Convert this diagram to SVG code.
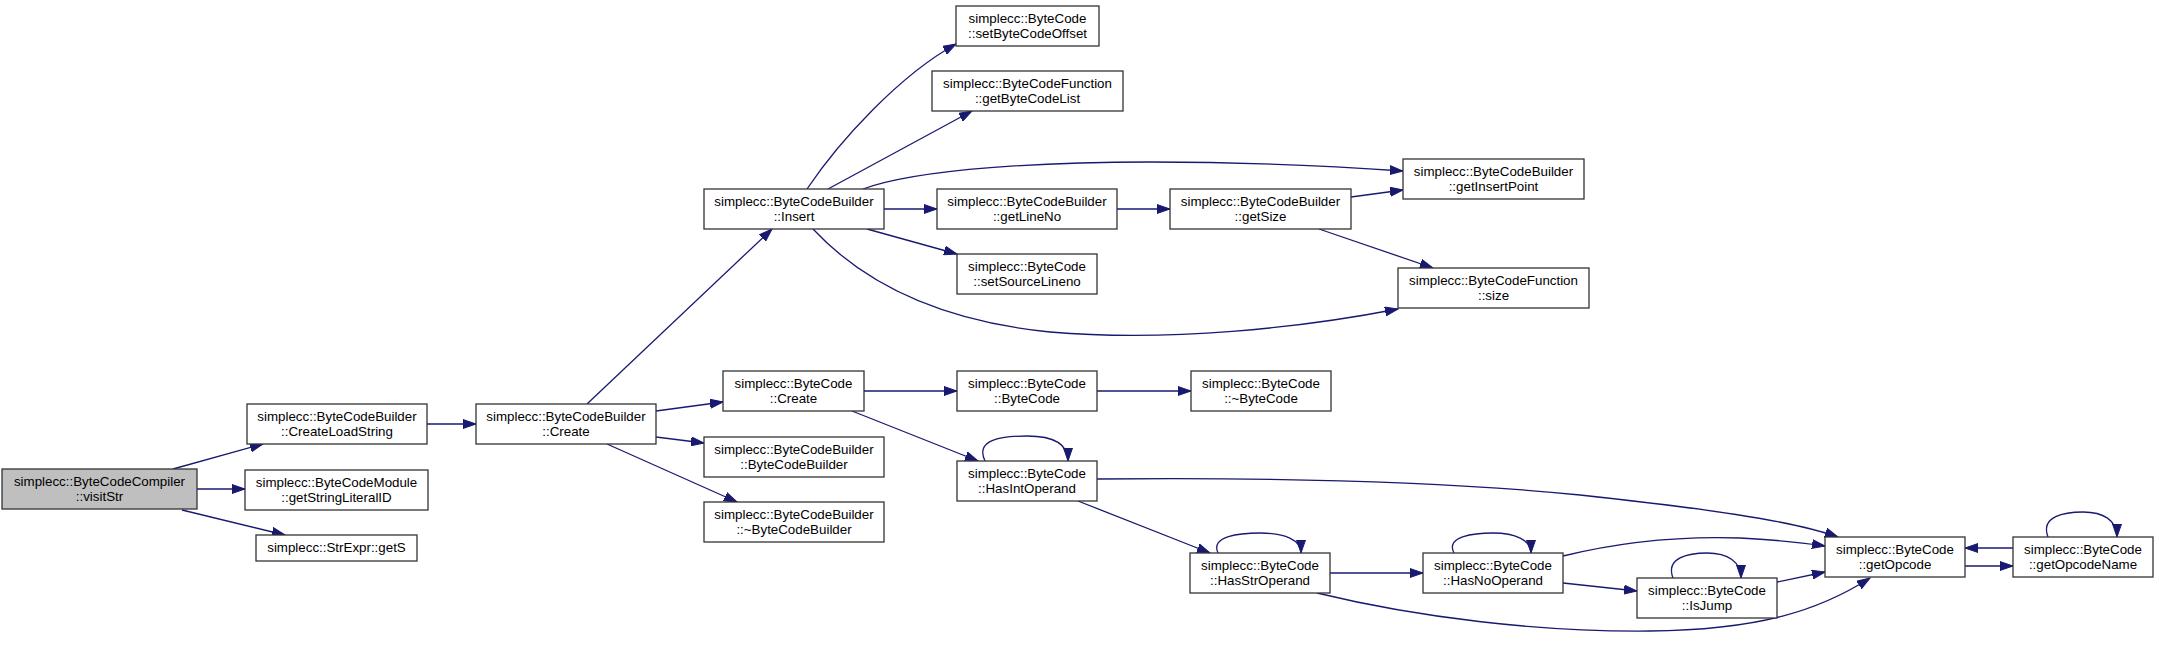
<svg xmlns="http://www.w3.org/2000/svg" width="2159" height="656" viewBox="0 0 2159 656">
<style>
.n rect{fill:#ffffff;stroke:#333333;stroke-width:1.3}
.n.hl rect{fill:#bfbfbf}
.n text{font-family:"Liberation Sans",Arial,sans-serif;font-size:13.33px;fill:#000;text-anchor:middle}
.e path{fill:none;stroke:#191970;stroke-width:1.3;marker-end:url(#ah)}
</style>
<defs>
<marker id="ah" markerUnits="userSpaceOnUse" markerWidth="14" markerHeight="10" refX="13" refY="5" orient="auto">
<path d="M0,0.5 L13,5 L0,9.5 z" fill="#191970" stroke="#191970" stroke-width="1"/>
</marker>
</defs>
<rect width="2159" height="656" fill="#ffffff"/>
<g id="edges" class="e">
<path d="M173,469 L263,444"/>
<path d="M197,489 L245,489"/>
<path d="M182,510 L285,535"/>
<path d="M427,424 L476,424"/>
<path d="M587,404 L772,229"/>
<path d="M656,411 L723,402"/>
<path d="M656,437 L704,443"/>
<path d="M607,444 L737,502"/>
<path d="M807,189 C840,140 900,75 956,44"/>
<path d="M828,189 L972,111"/>
<path d="M863,189 C920,168 1050,162 1150,162 C1250,162 1330,166 1403,171"/>
<path d="M884,209 L937,209"/>
<path d="M867,229 L957,254"/>
<path d="M813,229 C870,290 950,322 1050,332 C1170,342 1300,328 1398,309"/>
<path d="M1117,209 L1170,209"/>
<path d="M1351,197 L1403,190"/>
<path d="M1319,229 L1433,268"/>
<path d="M864,391 L957,391"/>
<path d="M852,411 L978,461"/>
<path d="M1097,391 L1191,391"/>
<path d="M985,461 C975,440 1000,436 1027,436 C1055,436 1068,445 1068,461"/>
<path d="M1097,479 C1300,477 1450,482 1580,495 C1700,508 1790,520 1838,537"/>
<path d="M1078,501 L1210,553"/>
<path d="M1218,553 C1210,536 1240,533 1260,533 C1285,533 1301,540 1301,553"/>
<path d="M1330,573 L1423,573"/>
<path d="M1317,593 C1420,618 1540,632 1650,631 C1760,630 1820,610 1870,578"/>
<path d="M1454,553 C1445,536 1475,533 1493,533 C1515,533 1531,540 1531,553"/>
<path d="M1563,556 C1620,542 1680,536 1740,538 C1780,540 1805,543 1825,546"/>
<path d="M1563,583 L1637,591"/>
<path d="M1673,578 C1665,557 1690,553 1707,553 C1728,553 1741,562 1741,578"/>
<path d="M1777,582 L1825,572"/>
<path d="M1965,566 L2013,566"/>
<path d="M2013,548 L1965,548"/>
<path d="M2048,537 C2040,516 2065,512 2083,512 C2103,512 2117,520 2117,537"/>
</g>
<g id="visitStr" class="n hl"><rect x="2" y="469" width="195" height="40"/><text x="99.5" y="486">simplecc::ByteCodeCompiler</text><text x="99.5" y="501">::visitStr</text></g>
<g id="CreateLoadString" class="n"><rect x="247" y="404" width="180" height="40"/><text x="337" y="421">simplecc::ByteCodeBuilder</text><text x="337" y="436">::CreateLoadString</text></g>
<g id="getStringLiteralID" class="n"><rect x="245" y="470" width="183" height="40"/><text x="336.5" y="487">simplecc::ByteCodeModule</text><text x="336.5" y="502">::getStringLiteralID</text></g>
<g id="getS" class="n"><rect x="256" y="535" width="161" height="26"/><text x="336.5" y="552">simplecc::StrExpr::getS</text></g>
<g id="BCB_Create" class="n"><rect x="476" y="404" width="180" height="40"/><text x="566" y="421">simplecc::ByteCodeBuilder</text><text x="566" y="436">::Create</text></g>
<g id="Insert" class="n"><rect x="704" y="189" width="180" height="40"/><text x="794" y="206">simplecc::ByteCodeBuilder</text><text x="794" y="221">::Insert</text></g>
<g id="BC_Create" class="n"><rect x="723" y="371" width="141" height="40"/><text x="793.5" y="388">simplecc::ByteCode</text><text x="793.5" y="403">::Create</text></g>
<g id="BCB_BCB" class="n"><rect x="704" y="437" width="180" height="40"/><text x="794" y="454">simplecc::ByteCodeBuilder</text><text x="794" y="469">::ByteCodeBuilder</text></g>
<g id="BCB_dtor" class="n"><rect x="704" y="502" width="180" height="40"/><text x="794" y="519">simplecc::ByteCodeBuilder</text><text x="794" y="534">::~ByteCodeBuilder</text></g>
<g id="setByteCodeOffset" class="n"><rect x="956" y="6" width="143" height="40"/><text x="1027.5" y="23">simplecc::ByteCode</text><text x="1027.5" y="38">::setByteCodeOffset</text></g>
<g id="getByteCodeList" class="n"><rect x="932" y="71" width="191" height="40"/><text x="1027.5" y="88">simplecc::ByteCodeFunction</text><text x="1027.5" y="103">::getByteCodeList</text></g>
<g id="getLineNo" class="n"><rect x="937" y="189" width="180" height="40"/><text x="1027" y="206">simplecc::ByteCodeBuilder</text><text x="1027" y="221">::getLineNo</text></g>
<g id="setSourceLineno" class="n"><rect x="957" y="254" width="140" height="40"/><text x="1027" y="271">simplecc::ByteCode</text><text x="1027" y="286">::setSourceLineno</text></g>
<g id="BC_BC" class="n"><rect x="957" y="371" width="140" height="40"/><text x="1027" y="388">simplecc::ByteCode</text><text x="1027" y="403">::ByteCode</text></g>
<g id="HasIntOperand" class="n"><rect x="957" y="461" width="140" height="40"/><text x="1027" y="478">simplecc::ByteCode</text><text x="1027" y="493">::HasIntOperand</text></g>
<g id="getSize" class="n"><rect x="1170" y="189" width="181" height="40"/><text x="1260.5" y="206">simplecc::ByteCodeBuilder</text><text x="1260.5" y="221">::getSize</text></g>
<g id="BC_dtor" class="n"><rect x="1191" y="371" width="140" height="40"/><text x="1261" y="388">simplecc::ByteCode</text><text x="1261" y="403">::~ByteCode</text></g>
<g id="HasStrOperand" class="n"><rect x="1190" y="553" width="140" height="40"/><text x="1260" y="570">simplecc::ByteCode</text><text x="1260" y="585">::HasStrOperand</text></g>
<g id="getInsertPoint" class="n"><rect x="1403" y="159" width="181" height="40"/><text x="1493.5" y="176">simplecc::ByteCodeBuilder</text><text x="1493.5" y="191">::getInsertPoint</text></g>
<g id="size" class="n"><rect x="1398" y="268" width="191" height="40"/><text x="1493.5" y="285">simplecc::ByteCodeFunction</text><text x="1493.5" y="300">::size</text></g>
<g id="HasNoOperand" class="n"><rect x="1423" y="553" width="140" height="40"/><text x="1493" y="570">simplecc::ByteCode</text><text x="1493" y="585">::HasNoOperand</text></g>
<g id="IsJump" class="n"><rect x="1637" y="578" width="140" height="40"/><text x="1707" y="595">simplecc::ByteCode</text><text x="1707" y="610">::IsJump</text></g>
<g id="getOpcode" class="n"><rect x="1825" y="537" width="140" height="40"/><text x="1895" y="554">simplecc::ByteCode</text><text x="1895" y="569">::getOpcode</text></g>
<g id="getOpcodeName" class="n"><rect x="2013" y="537" width="140" height="40"/><text x="2083" y="554">simplecc::ByteCode</text><text x="2083" y="569">::getOpcodeName</text></g>
</svg>
